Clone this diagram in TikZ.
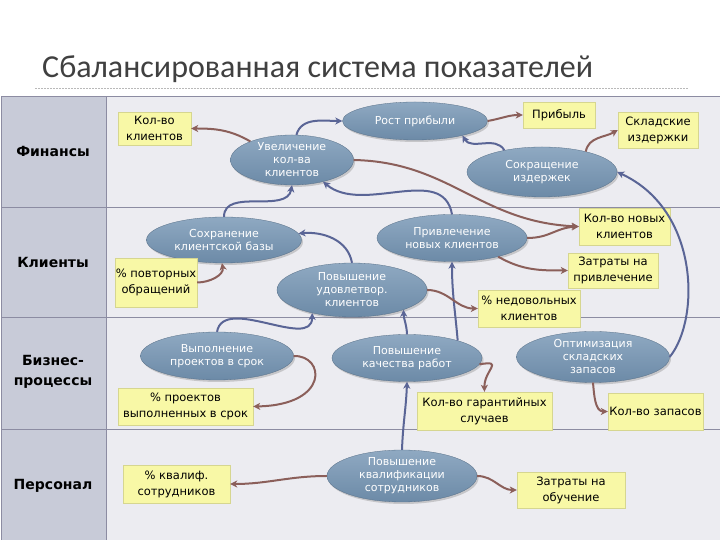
\documentclass[tikz,border=0pt]{standalone}
\usepackage{fontspec}
\setmainfont{DejaVu Sans}
\newfontfamily\titlefont{Carlito}
\usetikzlibrary{shapes.geometric,shadows,arrows.meta}
\definecolor{leftcol}{HTML}{C8CBD8}
\definecolor{mainbg}{HTML}{ECECF1}
\definecolor{gridline}{HTML}{8C8CA2}
\definecolor{elltop}{HTML}{8FA9C2}
\definecolor{ellbot}{HTML}{6C8AA7}
\definecolor{boxfill}{HTML}{F8F8A6}
\definecolor{boxline}{HTML}{D6D690}
\definecolor{causal}{HTML}{5A6596}
\definecolor{metric}{HTML}{8B5F5A}
\definecolor{titlecol}{HTML}{404040}
\begin{document}
\begin{tikzpicture}[x=1pt,y=1pt,
  ell/.style={ellipse, inner sep=0pt, align=center, text=white,
    top color=elltop, bottom color=ellbot, draw=ellbot!80!black, line width=0.3pt,
    font=\fontsize{11}{13}\selectfont,
    drop shadow={shadow xshift=1.5pt, shadow yshift=-2pt, opacity=0.35}},
  kpi/.style={rectangle, inner sep=0pt, align=center, fill=boxfill, draw=boxline,
    line width=0.4pt, text=black, font=\fontsize{11.5}{16}\selectfont,
    drop shadow={shadow xshift=0.8pt, shadow yshift=-1.5pt, opacity=0.55}},
  rowlab/.style={align=center, font=\bfseries\fontsize{14}{20}\selectfont, text=black},
  causeline/.style={draw=causal, line width=2pt, -{Stealth[length=7pt,width=7pt,inset=2pt]}},
  metricline/.style={draw=metric, line width=2pt, -{Stealth[length=7pt,width=7pt,inset=2pt]}}
]
\useasboundingbox (0,0) rectangle (720,540);
\fill[white] (0,0) rectangle (720,540);

% title
\node[anchor=base west, inner sep=0pt, text=titlecol, font=\titlefont\fontsize{32}{36}\selectfont] (title) at (42,462) {Сбалансированная система показателей};
\draw[gray!55, line width=0.6pt, dash pattern=on 2pt off 1pt] (35,452) -- (688,452);

% table
\fill[mainbg] (1,0) rectangle (720,444);
\fill[leftcol] (1,0) rectangle (106,444);
\draw[gridline, line width=0.8pt] (1,444) -- (720,444);
\draw[gridline, line width=0.8pt] (1,333) -- (720,333);
\draw[gridline, line width=0.8pt] (1,223) -- (720,223);
\draw[gridline, line width=0.8pt] (1,111) -- (720,111);
\draw[gridline, line width=0.8pt] (106,0) -- (106,444);
\draw[gridline, line width=0.8pt] (1,0) -- (1,444);

\node[rowlab] (r1) at (53,388) {Финансы};
\node[rowlab] (r2) at (53,277) {Клиенты};
\node[rowlab] (r3) at (53,168) {Бизнес-\\процессы};
\node[rowlab] (r4) at (53,54) {Персонал};

% objectives
\node[ell, minimum width=145pt, minimum height=38pt] (rost) at (415,419) {Рост прибыли};
\node[ell, minimum width=123pt, minimum height=50pt] (uvel) at (292,380) {Увеличение\\кол-ва\\клиентов};
\node[ell, minimum width=150pt, minimum height=50pt] (sokr) at (542,368) {Сокращение\\издержек};
\node[ell, minimum width=155pt, minimum height=46pt] (sokh) at (224,300) {Сохранение\\клиентской базы};
\node[ell, minimum width=150pt, minimum height=47pt] (priv) at (452,302) {Привлечение\\новых клиентов};
\node[ell, minimum width=150pt, minimum height=54pt] (povu) at (352,250) {Повышение\\удовлетвор.\\клиентов};
\node[ell, minimum width=153pt, minimum height=48pt] (vyp) at (217,184) {Выполнение\\проектов в срок};
\node[ell, minimum width=150pt, minimum height=47pt] (pk) at (407,182) {Повышение\\качества работ};
\node[ell, minimum width=153pt, minimum height=51pt] (opt) at (593,183) {Оптимизация\\складских\\запасов};
\node[ell, minimum width=150pt, minimum height=52pt] (kval) at (402,64) {Повышение\\квалификации\\сотрудников};

% indicators
\node[kpi, minimum width=73pt, minimum height=33pt] (A) at (154.5,411.5) {Кол-во\\клиентов};
\node[kpi, minimum width=72pt, minimum height=26pt] (B) at (559,425) {Прибыль};
\node[kpi, minimum width=80pt, minimum height=36pt] (C) at (658,410) {Складские\\издержки};
\node[kpi, minimum width=91pt, minimum height=37pt] (D) at (624.5,313.5) {Кол-во новых\\клиентов};
\node[kpi, minimum width=90pt, minimum height=35pt] (E) at (613,269.5) {Затраты на\\привлечение};
\node[kpi, minimum width=102pt, minimum height=37pt] (F) at (529,231.5) {\% недовольных\\клиентов};
\node[kpi, minimum width=82pt, minimum height=49pt] (G) at (156,257.5) {\% повторных\\обращений};
\node[kpi, minimum width=135pt, minimum height=37pt] (H) at (185.5,133.5) {\% проектов\\выполненных в срок};
\node[kpi, minimum width=135pt, minimum height=38pt] (I) at (484.5,129) {Кол-во гарантийных\\случаев};
\node[kpi, minimum width=95pt, minimum height=37pt] (J) at (655.5,128.5) {Кол-во запасов};
\node[kpi, minimum width=107pt, minimum height=38pt] (K) at (176.5,56) {\% квалиф.\\сотрудников};
\node[kpi, minimum width=108pt, minimum height=36pt] (L) at (571,50) {Затраты на\\обучение};

% causal links
\draw[causeline] (uvel.80) to[out=75,in=180] (rost.west);
\draw[causeline] (sokr.150) to[out=120,in=-60] (rost.-17);
\draw[causeline] (sokh.north) to[out=90,in=-100] (uvel.south);
\draw[causeline] (priv.north) to[out=100,in=-40] (uvel.-35);
\draw[causeline] (povu.north) to[out=100,in=5] (sokh.5);
\draw[causeline] (vyp.north) to[out=80,in=-90] (povu.-150);
\draw[causeline] (pk.north) to[out=92,in=-88] (povu.-21);
\draw[causeline] (pk.19) to[out=95,in=-90] (priv.south);
\draw[causeline] (kval.north) to[out=88,in=-92] (pk.south);
\draw[causeline] (opt.east) .. controls (700,220) and (700,330) .. (sokr.east);

% metric links
\draw[metricline] (uvel.156) to[out=150,in=0] (A.east);
\draw[metricline] (rost.east) to[out=10,in=180] (B.west);
\draw[metricline] (sokr.25) to[out=80,in=-150] (C.west);
\draw[metricline] (uvel.east) .. controls (450,378) and (480,318) .. (D.west);
\draw[metricline] (priv.east) .. controls (550,302) and (555,312) .. (D.west);
\draw[metricline] (priv.-22) to[out=-30,in=180] (E.west);
\draw[metricline] (povu.east) to[out=0,in=180] (F.west);
\draw[metricline] (G.east) to[out=0,in=-80] (sokh.-95);
\draw[metricline] (vyp.east) .. controls (325,185) and (330,135) .. (H.east);
\draw[metricline] (pk.-5) .. controls (505,180) and (484,170) .. (I.north);
\draw[metricline] (opt.south) to[out=-85,in=180] (J.west);
\draw[metricline] (kval.west) to[out=180,in=0] (K.east);
\draw[metricline] (kval.east) to[out=0,in=180] (L.west);
\end{tikzpicture}
\end{document}
